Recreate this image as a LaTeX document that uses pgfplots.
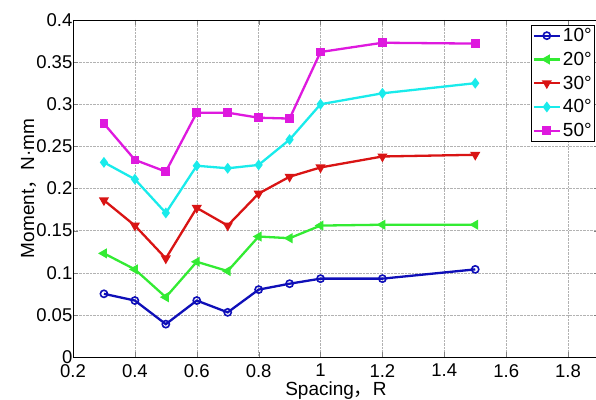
\documentclass[border=0pt]{standalone}
\usepackage{pgfplots}
\pgfplotsset{compat=1.18}
\usepackage{fontspec}
\setmainfont{Liberation Sans}
\newfontfamily\cjk{Noto Sans CJK SC}
\definecolor{mblue}{rgb}{0.06,0.06,0.72}
\definecolor{mgreen}{rgb}{0.2,0.92,0.2}
\definecolor{mred}{rgb}{0.85,0.08,0.08}
\definecolor{mcyan}{rgb}{0.1,0.92,0.92}
\definecolor{mmag}{rgb}{0.87,0.1,0.87}
\begin{document}
\begin{tikzpicture}
\begin{axis}[
  name=ax,
  scale only axis,
  width=526pt, height=337pt,
  xmin=0.2, xmax=1.9, ymin=0, ymax=0.4,
  xtick={0.2,0.4,...,1.8},
  ytick={0,0.05,...,0.4},
  scaled y ticks=false,
  /pgf/number format/assume math mode=true,
  yticklabel style={/pgf/number format/fixed,/pgf/number format/precision=2, inner sep=0.5pt},
  xticklabel style={/pgf/number format/fixed, inner sep=0pt, yshift=-7pt},
  tick label style={font=\fontsize{18.5}{20}\selectfont},
  label style={font=\fontsize{19}{21}\selectfont},
  tick align=inside,
  major tick length=5pt,
  grid=major,
  major grid style={densely dotted, gray!60, line width=0.5pt},
  axis line style={line width=0.6pt},
  xlabel={Spacing{\cjk ，}R},
  ylabel={Moment{\cjk ，}N·mm},
  xlabel style={at={(axis description cs:0.5,0)}, anchor=base, inner sep=0pt, yshift=-38.5pt},
  ylabel style={yshift=-4pt},
  legend style={at={(1,1)}, anchor=north east, xshift=-4pt, yshift=-5pt,
    font=\fontsize{19}{21}\selectfont, draw=black, line width=0.6pt,
    inner sep=1pt, row sep=5pt, cells={anchor=west}},
  legend image code/.code={\draw[mark repeat=2,mark phase=2] plot coordinates {(0pt,0pt)(13pt,0pt)(26pt,0pt)};},
  every axis plot/.append style={line width=2.3pt, mark size=3.6pt},
]
\addplot[mblue, mark=o, mark options={line width=1.6pt}] coordinates {
(0.3,0.075)(0.4,0.067)(0.5,0.039)(0.6,0.067)(0.7,0.053)(0.8,0.080)(0.9,0.087)(1.0,0.093)(1.2,0.093)(1.5,0.104)};
\addlegendentry{10°}
\addplot[mgreen, mark=triangle*, mark options={rotate=90, solid}] coordinates {
(0.3,0.123)(0.4,0.104)(0.5,0.071)(0.6,0.113)(0.7,0.102)(0.8,0.143)(0.9,0.141)(1.0,0.156)(1.2,0.157)(1.5,0.157)};
\addlegendentry{20°}
\addplot[mred, mark=triangle*, mark options={rotate=180, solid}] coordinates {
(0.3,0.186)(0.4,0.156)(0.5,0.117)(0.6,0.177)(0.7,0.156)(0.8,0.194)(0.9,0.214)(1.0,0.225)(1.2,0.238)(1.5,0.240)};
\addlegendentry{30°}
\addplot[mcyan, mark=diamond*, mark options={solid}] coordinates {
(0.3,0.231)(0.4,0.211)(0.5,0.171)(0.6,0.227)(0.7,0.224)(0.8,0.228)(0.9,0.258)(1.0,0.300)(1.2,0.313)(1.5,0.325)};
\addlegendentry{40°}
\addplot[mmag, mark=square*, mark options={solid, mark size=3.2pt}] coordinates {
(0.3,0.277)(0.4,0.234)(0.5,0.220)(0.6,0.290)(0.7,0.290)(0.8,0.284)(0.9,0.283)(1.0,0.362)(1.2,0.373)(1.5,0.372)};
\addlegendentry{50°}
\end{axis}
\pgfresetboundingbox
\useasboundingbox ([shift={(-73pt,-42pt)}]ax.south west) rectangle ([shift={(523pt,20pt)}]ax.north west);
\end{tikzpicture}
\end{document}
